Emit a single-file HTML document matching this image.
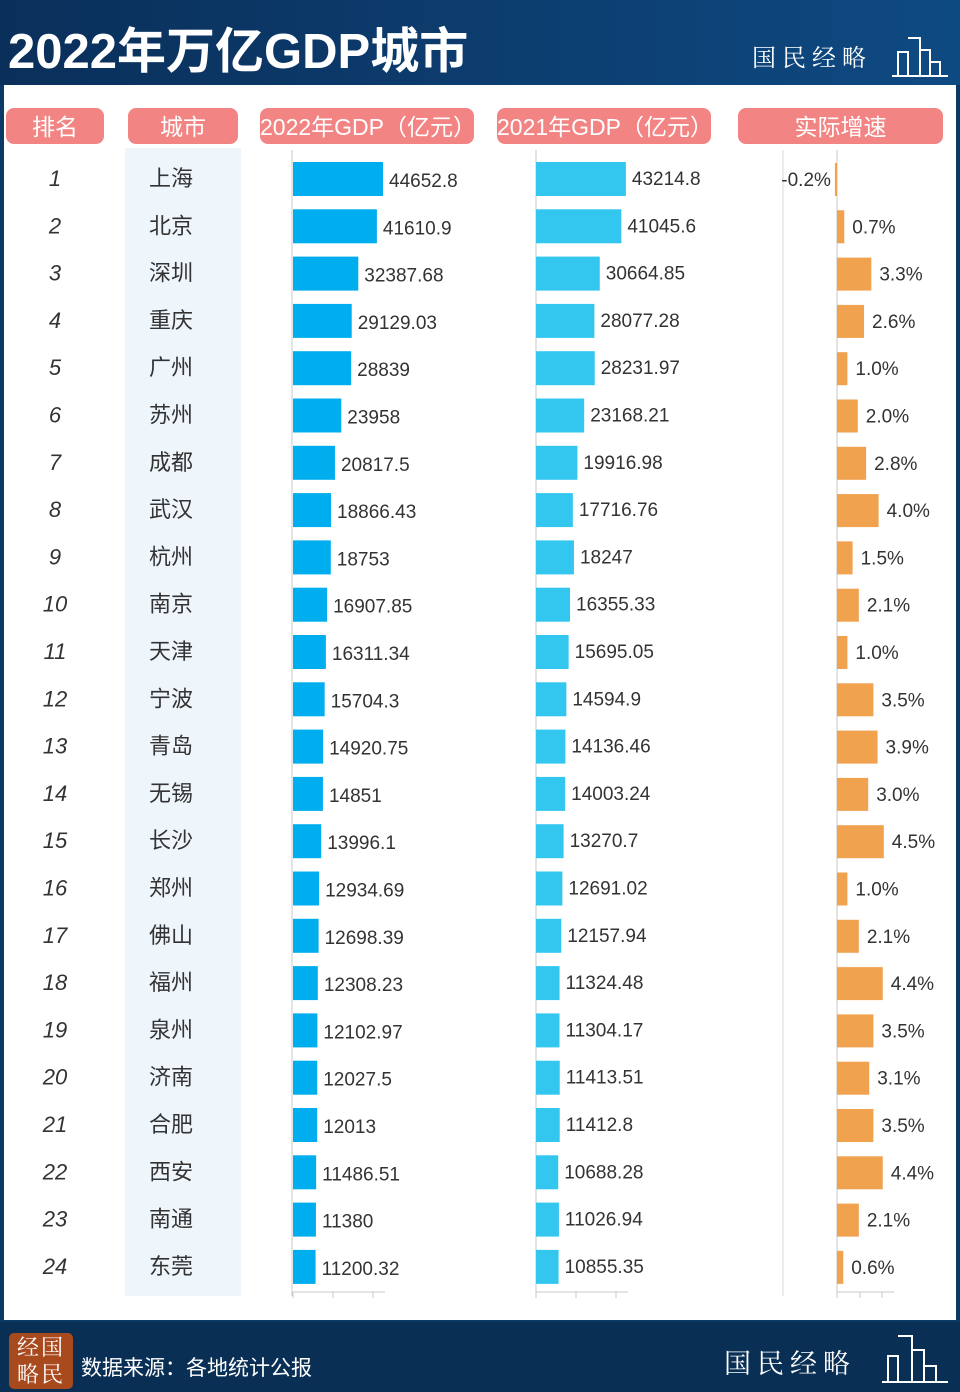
<!DOCTYPE html>
<html><head><meta charset="utf-8">
<style>
body{margin:0;width:960px;height:1392px;background:#0b3a66;overflow:hidden;font-family:"Liberation Sans","Noto Sans CJK SC",sans-serif;position:relative}
.hdr{position:absolute;left:0;top:0;width:960px;height:85px;background:linear-gradient(90deg,#0a2f5a,#0e4a82)}
.title{position:absolute;left:8px;top:12px;color:#fff;font-size:49px;font-weight:bold;letter-spacing:0px}
.panel{position:absolute;left:4px;top:85px;width:952px;height:1235px;background:#fff}
.foot{position:absolute;left:0;top:1322px;width:960px;height:70px;background:#0a2f55}
.pill{position:absolute;top:108px;height:36px;background:#f28584;border-radius:8px;color:#fff;font-size:23px;text-align:center;line-height:38px}
.brand{position:absolute;color:#fff;font-family:"Noto Serif CJK SC",serif;font-size:24px;letter-spacing:6px}
</style></head><body>
<div class="hdr"></div>
<div class="title">2022年万亿GDP城市</div>
<div class="brand" style="left:752px;top:38px">国民经略</div>
<svg style="position:absolute;left:890px;top:32px" width="60" height="48"><path d="M2 44 H58 M8 44 V20 H18 V44 M18 6 H30 V44 M30 18 H40 V44 M40 30 H50 V44" stroke="#fff" stroke-width="2" fill="none"/></svg>
<div class="panel"></div>
<div class="pill" style="left:6px;width:98px">排名</div>
<div class="pill" style="left:128px;width:110px">城市</div>
<div class="pill" style="left:260px;width:214px">2022年GDP（亿元）</div>
<div class="pill" style="left:497px;width:214px">2021年GDP（亿元）</div>
<div class="pill" style="left:738px;width:205px">实际增速</div>
<div style="position:absolute;left:125px;top:148px;width:116px;height:1148px;background:#eef5fb"></div>
<svg id="chart" style="position:absolute;left:0;top:0" width="960" height="1392"></svg>
<div class="foot"></div>
<div style="position:absolute;left:9px;top:1333px;width:64px;height:56px;background:#a84a1e;border-radius:5px;color:#fff;font-family:'Noto Serif CJK SC',serif;font-size:22px;line-height:27px;text-align:center;letter-spacing:2px">经国<br>略民</div>
<div style="position:absolute;left:81px;top:1352px;color:#fff;font-size:21px">数据来源：各地统计公报</div>
<div class="brand" style="left:724px;top:1342px;font-size:27px">国民经略</div>
<svg style="position:absolute;left:880px;top:1330px" width="70" height="56"><path d="M2 52 H68 M8 52 V26 H18 V52 M18 6 H32 V52 M32 20 H44 V52 M44 36 H56 V52" stroke="#fff" stroke-width="2" fill="none"/></svg>
<script>
const cities=["上海","北京","深圳","重庆","广州","苏州","成都","武汉","杭州","南京","天津","宁波","青岛","无锡","长沙","郑州","佛山","福州","泉州","济南","合肥","西安","南通","东莞"];
const gdp2022=[44652.8,41610.9,32387.68,29129.03,28839,23958,20817.5,18866.43,18753,16907.85,16311.34,15704.3,14920.75,14851,13996.1,12934.69,12698.39,12308.23,12102.97,12027.5,12013,11486.51,11380,11200.32];
const gdp2021=[43214.8,41045.6,30664.85,28077.28,28231.97,23168.21,19916.98,17716.76,18247,16355.33,15695.05,14594.9,14136.46,14003.24,13270.7,12691.02,12157.94,11324.48,11304.17,11413.51,11412.8,10688.28,11026.94,10855.35];
const growth=[-0.2,0.7,3.3,2.6,1.0,2.0,2.8,4.0,1.5,2.1,1.0,3.5,3.9,3.0,4.5,1.0,2.1,4.4,3.5,3.1,3.5,4.4,2.1,0.6];
const growthLabels=["-0.2%","0.7%","3.3%","2.6%","1.0%","2.0%","2.8%","4.0%","1.5%","2.1%","1.0%","3.5%","3.9%","3.0%","4.5%","1.0%","2.1%","4.4%","3.5%","3.1%","3.5%","4.4%","2.1%","0.6%"];
const svg=document.getElementById('chart');const NS='http://www.w3.org/2000/svg';
function mk(t,a){const e=document.createElementNS(NS,t);for(const k in a)e.setAttribute(k,a[k]);svg.appendChild(e);return e;}
const rowY=i=>178+i*47.3;
const x22=v=>293+v*0.002016;
const x21=v=>536+v*0.00208;
const xg=v=>837+v*10.4;
[[292,[293,333,373]],[536,[536,576,616]],[837,[837,860,882]]].forEach(([x,ts],j)=>{
 let l=mk('line',{x1:x,y1:150,x2:x,y2:1296,stroke:'#c8c8c8'});
 
 let b=mk('line',{x1:ts[0],y1:1292,x2:ts[2]+12,y2:1292,stroke:'#c8c8c8'});
 
 ts.forEach(t=>{let tk=mk('line',{x1:t,y1:1292,x2:t,y2:1298,stroke:'#c8c8c8'});});
});
let gl=mk('line',{x1:783,y1:150,x2:783,y2:1296,stroke:'#d8d8d8'});

cities.forEach((c,i)=>{
 const y=rowY(i);
 let r=mk('text',{x:55,y:y+8,'font-size':22,'font-style':'italic',fill:'#333','text-anchor':'middle'});r.textContent=i+1;
 
 let t=mk('text',{x:149,y:y+8,'font-size':22,fill:'#333'});t.textContent=c;
 
 let b1=mk('rect',{x:293,y:y-16,width:x22(gdp2022[i])-293,height:34,fill:'#00aeef'});
 
 let l1=mk('text',{x:x22(gdp2022[i])+6,y:y+9,'font-size':19,fill:'#333'});l1.textContent=gdp2022[i];
 
 let b2=mk('rect',{x:536,y:y-16,width:x21(gdp2021[i])-536,height:34,fill:'#33c7f0'});
 
 let l2=mk('text',{x:x21(gdp2021[i])+6,y:y+7,'font-size':19,fill:'#333'});l2.textContent=gdp2021[i];
 
 const g=growth[i],gx=xg(g);
 let b3=mk('rect',{x:Math.min(837,gx),y:y-15,width:Math.max(2,Math.abs(gx-837)),height:33,fill:'#f0a24e'});
 
 let l3=mk('text',{x:g<0?gx-4:gx+8,y:y+8,'font-size':19,fill:'#333','text-anchor':g<0?'end':'start'});l3.textContent=growthLabels[i];
 
});
</script>
</body></html>
